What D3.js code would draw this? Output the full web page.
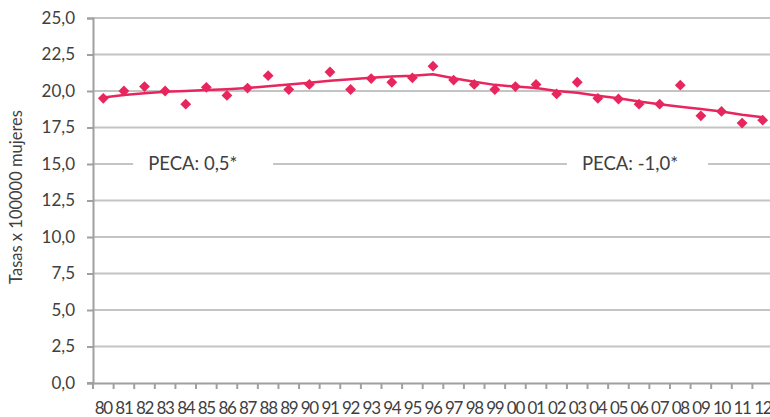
<!DOCTYPE html>
<html><head><meta charset="utf-8">
<script src="https://cdn.jsdelivr.net/npm/d3@7"></script>
<style>body{margin:0;background:#fff;} svg{display:block;}</style>
</head><body>
<svg id="c" width="770" height="417"></svg>
<script>
const years = ["80","81","82","83","84","85","86","87","88","89","90","91","92","93","94","95","96","97","98","99","00","01","02","03","04","05","06","07","08","09","10","11","12"];
const observed = [19.5,20.0,20.3,20.0,19.1,20.25,19.7,20.2,21.05,20.1,20.45,21.3,20.1,20.85,20.6,20.9,21.7,20.75,20.45,20.1,20.3,20.45,19.8,20.6,19.5,19.45,19.1,19.1,20.4,18.3,18.6,17.8,18.0];
const trend = [19.55,19.72,19.84,19.95,20.0,20.07,20.12,20.2,20.33,20.45,20.57,20.7,20.8,20.9,21.0,21.05,21.15,20.88,20.64,20.42,20.3,20.2,20.0,19.88,19.68,19.5,19.28,19.1,18.92,18.76,18.6,18.38,18.2];
const yTicks = [0,2.5,5,7.5,10,12.5,15,17.5,20,22.5,25];
const annotations = [
  {text:"PECA: 0,5*", from:"81", to:"88", value:15},
  {text:"PECA: -1,0*", from:"03", to:"09", value:15}
];
const yTitle = "Tasas x 100000 mujeres";

(function(){
const svg = d3.select("#c");
const mLeft = 93, mTop = 18, mBottom = 383, mRight = 773;
const x = d3.scaleBand().domain(years).range([mLeft, mRight]).padding(0);
const y = d3.scaleLinear().domain([0,25]).range([mBottom, mTop]);
const font = "Lato, 'Open Sans', 'Liberation Sans', sans-serif";
const textCol = "#404040";
const pink = "#e8265e";
const bw = x.bandwidth();

svg.append("g").selectAll("line").data(yTicks.filter(d=>d>0)).join("line")
  .attr("x1", mLeft).attr("x2", 770).attr("y1", d=>y(d)).attr("y2", d=>y(d))
  .attr("stroke", "#c4c4c4").attr("stroke-width", 2);

const ann = svg.append("g");
annotations.forEach((a,i) => {
  const x0 = x(a.from) + (i===0 ? 0.95*bw : 0);
  const x1 = x(a.to) + (i===0 ? 0.74*bw : 0.85*bw);
  ann.append("rect").attr("x", x0).attr("y", y(a.value)-12).attr("width", x1-x0).attr("height", 24).attr("fill", "#fff");
  ann.append("text").attr("x", x0 + 15).attr("y", y(a.value)+6)
    .attr("font-family", font).attr("font-size", 18.5)
    .attr("fill", textCol).text(a.text);
});

const yAxis = d3.axisLeft(y).tickValues(yTicks).tickSize(6).tickPadding(12)
  .tickFormat(d => d3.format(".1f")(d).replace(".", ","));
const ga = svg.append("g").attr("transform", `translate(${mLeft},0)`).call(yAxis);
ga.select(".domain").attr("stroke", "#a0a0a0").attr("stroke-width", 2);
ga.selectAll(".tick line").attr("stroke", "#a0a0a0").attr("stroke-width", 2);
ga.selectAll("text").attr("font-family", font).attr("font-size", 17).attr("fill", textCol);

const xAxis = d3.axisBottom(x).tickSize(0).tickPadding(19);
const gx = svg.append("g").attr("transform", `translate(0,${mBottom})`).call(xAxis);
gx.select(".domain").attr("stroke", "#a0a0a0").attr("stroke-width", 2);
gx.selectAll("text").attr("font-family", font).attr("font-size", 17).attr("fill", textCol).attr("letter-spacing", "-1.3");
svg.append("g").selectAll("line").data(years).join("line")
  .attr("x1", d=>x(d)).attr("x2", d=>x(d)).attr("y1", mBottom).attr("y2", mBottom+6)
  .attr("stroke", "#a0a0a0").attr("stroke-width", 2);
svg.append("line").attr("x1", mLeft-6).attr("x2", mLeft).attr("y1", mBottom).attr("y2", mBottom).attr("stroke","#a0a0a0").attr("stroke-width",2);

svg.append("text").attr("transform", `translate(22,197) rotate(-90)`)
  .attr("text-anchor","middle").attr("font-family", font).attr("font-size", 16.5)
  .attr("fill", textCol).text(yTitle);

const cx = d => x(d) + bw/2;
svg.append("path").datum(years.map((d,i)=>[cx(d), y(trend[i])]))
  .attr("d", d3.line()).attr("fill","none").attr("stroke", pink).attr("stroke-width", 2.5);

svg.append("g").selectAll("path").data(years).join("path")
  .attr("transform", (d,i)=>`translate(${cx(d)},${y(observed[i])})`)
  .attr("d", d3.symbol(d3.symbolDiamond2, 75)())
  .attr("fill", pink);
})();
</script>
</body></html>
